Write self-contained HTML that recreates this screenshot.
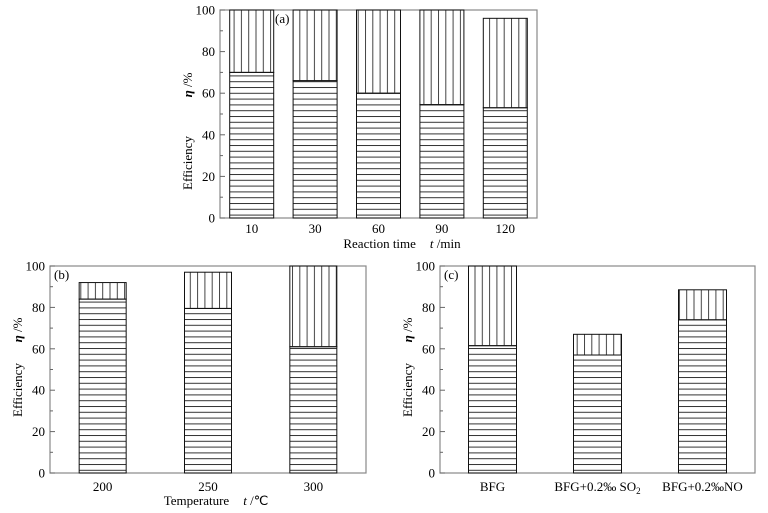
<!DOCTYPE html>
<html><head><meta charset="utf-8"><style>
html,body{margin:0;padding:0;background:#fff;}
svg{display:block;font-family:"Liberation Serif",serif;}
</style></head><body>
<svg id="chart" width="768" height="513" viewBox="0 0 768 513">
<defs>
<pattern id="hpat" patternUnits="userSpaceOnUse" width="8" height="5.8"><line x1="0" y1="0.5" x2="8" y2="0.5" stroke="#333" stroke-width="1"/></pattern>
<pattern id="vpat" patternUnits="userSpaceOnUse" width="7.3" height="8"><line x1="0.5" y1="0" x2="0.5" y2="8" stroke="#444" stroke-width="1"/></pattern>
</defs>
</svg>
<script>
// Panel (a)
const catsA = ["10","30","60","90","120"];
const lowerA = [70,66,60,54.5,53];
const totalA = [100,100,100,100,96];
// Panel (b)
const catsB = ["200","250","300"];
const lowerB = [84,79.5,61];
const totalB = [92,97,100];
// Panel (c)
const catsC = ["BFG","BFG+0.2‰ SO2","BFG+0.2‰NO"];
const lowerC = [61.5,57,74];
const totalC = [100,67,88.5];
const yTicks = [0,20,40,60,80,100];

const svg = document.getElementById('chart');
const NS = 'http://www.w3.org/2000/svg';
function mk(tag, attrs, parent){
  const e = document.createElementNS(NS, tag);
  for (const k in attrs) e.setAttribute(k, attrs[k]);
  (parent||svg).appendChild(e);
  return e;
}

function panel(id, L, R, T, B, cats, lower, total, barW, tag, tagX, xlabel, xlabelX, xlabelY, ylabX, effY, etaY, tickY){
  const g = mk('g', {});
  
  
  const ys = v => B - (v/100)*(B-T);
  const slot = (R-L)/cats.length;
  const xs = i => L + slot*(i+0.5);
  const frame = mk('rect', {x:L, y:T, width:R-L, height:B-T, fill:'none', stroke:'#888', 'stroke-width':1.2}, g);
  
  
  for (let v=0; v<=100; v+=10){
    const len = v%20===0 ? 5 : 3;
    const t = mk('line', {x1:L, x2:L+len, y1:ys(v), y2:ys(v), stroke:'#666', 'stroke-width':1}, g);
    
    
  }
  yTicks.forEach(v=>{
    const t = mk('text', {x:L-5, y:ys(v)+4.5, 'text-anchor':'end', 'font-size':13}, g);
    t.textContent = v;
    
    
  });
  cats.forEach((c,i)=>{
    const x0 = xs(i)-barW/2;
    const lo = mk('rect', {x:x0, y:ys(lower[i]), width:barW, height:ys(0)-ys(lower[i]), fill:'url(#hpat)', stroke:'#111', 'stroke-width':1}, g);
    
    
    const up = mk('rect', {x:x0, y:ys(total[i]), width:barW, height:ys(lower[i])-ys(total[i]), fill:'url(#vpat)', stroke:'#111', 'stroke-width':1}, g);
    
    
    const t = mk('text', {x:xs(i), y:tickY, 'text-anchor':'middle', 'font-size':13}, g);
    
    
    if (c.endsWith('SO2')){
      t.textContent = c.slice(0,-1);
      const s = mk('tspan', {'font-size':9, dy:3}, t);
      s.textContent = '2';
    } else t.textContent = c;
  });
  const tg = mk('text', {x:tagX, y:T+13, 'font-size':13}, g);
  tg.textContent = tag;
  
  
  if (xlabel){
    const xl = mk('text', {x:xlabelX, y:xlabelY, 'text-anchor':'middle', 'font-size':13}, g);
    
    
    xl.textContent = xlabel[0];
    const it = mk('tspan', {'font-style':'italic', dx:14}, xl);
    it.textContent = xlabel[1];
    const rest = mk('tspan', {}, xl);
    rest.textContent = xlabel[2];
  }
  const ef = mk('text', {x:ylabX, y:effY, 'text-anchor':'middle', 'font-size':13, transform:`rotate(-90 ${ylabX} ${effY})`}, g);
  ef.textContent = 'Efficiency';
  
  
  const eta = mk('text', {x:ylabX, y:etaY, 'text-anchor':'middle', 'font-size':13, transform:`rotate(-90 ${ylabX} ${etaY})`}, g);
  
  
  const e1 = mk('tspan', {'font-style':'italic','font-weight':'bold'}, eta);
  e1.textContent = 'η';
  const e2 = mk('tspan', {}, eta);
  e2.textContent = ' /%';
}

panel('a', 220, 537, 10, 218, catsA, lowerA, totalA, 44, '(a)', 275, ['Reaction time','t',' /min'], 402, 248, 192, 163, 85, 233);
panel('b', 50, 366, 266, 473, catsB, lowerB, totalB, 47, '(b)', 54, ['Temperature','t',' /℃'], 216, 505, 22, 390, 330, 491);
panel('c', 440, 755, 266, 473, catsC, lowerC, totalC, 48, '(c)', 444, null, 0, 0, 412, 390, 330, 491);
</script>
</body></html>
